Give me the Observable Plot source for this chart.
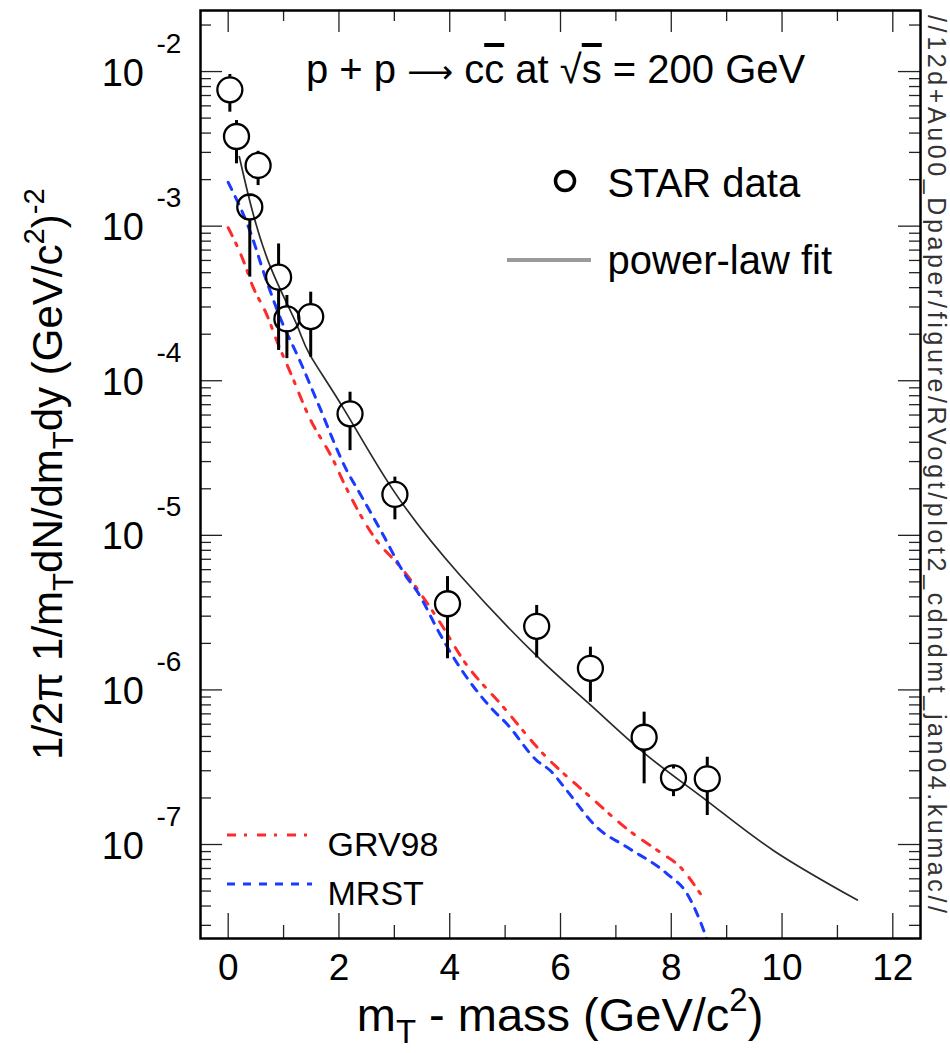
<!DOCTYPE html>
<html>
<head>
<meta charset="utf-8">
<script src="https://cdn.jsdelivr.net/npm/d3@7"></script>
<script src="https://cdn.jsdelivr.net/npm/@observablehq/plot@0.6"></script>
<style>
  html, body { margin: 0; padding: 0; background: #fff; }
  svg { display: block; }
</style>
</head>
<body>
<div id="chart"></div>
<script>
// ---------- data ----------
// STAR data: mT - mass (GeV/c^2), yield, error bar top, error bar bottom
const starMt    = [0.03, 0.15, 0.39, 0.54, 0.91, 1.06, 1.49, 2.20, 3.01, 3.96, 5.57, 6.54, 7.51, 8.04, 8.65];
const starYield = [7.62e-3, 3.80e-3, 1.33e-3, 2.47e-3, 4.68e-4, 2.51e-4, 2.60e-4, 6.11e-5, 1.84e-5, 3.61e-6, 2.58e-6, 1.38e-6, 4.94e-7, 2.70e-7, 2.66e-7];
const starErrHi = [9.57e-3, 4.82e-3, 1.55e-3, 3.05e-3, 7.67e-4, 3.56e-4, 3.74e-4, 8.43e-5, 2.38e-5, 5.41e-6, 3.52e-6, 1.89e-6, 7.18e-7, 3.08e-7, 3.67e-7];
const starErrLo = [5.46e-3, 2.53e-3, 4.68e-4, 1.83e-3, 1.57e-4, 1.39e-4, 1.42e-4, 3.53e-5, 1.26e-5, 1.59e-6, 1.61e-6, 8.32e-7, 2.47e-7, 2.04e-7, 1.54e-7];

// power-law fit
const fitMt    = [0.2, 0.42, 0.77, 1.23, 1.47, 2.1, 3.0, 4.19, 5.57, 6.55, 7.55, 8.65, 9.85, 11.36];
const fitYield = [2.82e-3, 1.32e-3, 5.37e-4, 2.34e-4, 1.48e-4, 6.46e-5, 1.91e-5, 5.50e-6, 1.66e-6, 7.94e-7, 3.80e-7, 1.91e-7, 9.12e-8, 4.37e-8];

// GRV98 calculation
const grvMt    = [0, 0.27, 0.45, 0.69, 0.9, 1.11, 1.47, 1.9, 2.1, 2.68, 3.1, 3.82, 4.25, 4.97, 5.69, 6.48, 7.32, 7.80, 8.165, 8.526];
const grvYield = [9.77e-4, 6.03e-4, 4.03e-4, 2.71e-4, 1.73e-4, 1.16e-4, 5.75e-5, 3.05e-5, 2.14e-5, 9.25e-6, 6.31e-6, 2.75e-6, 1.55e-6, 7.73e-7, 3.85e-7, 2.12e-7, 1.17e-7, 8.91e-8, 7.13e-8, 4.80e-8];

// MRST calculation
const mrstMt    = [0, 0.39, 0.69, 0.96, 1.293, 1.624, 2.14, 2.38, 2.77, 3.22, 3.40, 3.82, 4.0, 4.79, 5.03, 5.573, 5.814, 6.116, 6.658, 7.2, 7.924, 8.286, 8.586, 8.65];
const mrstYield = [1.92e-3, 9.38e-4, 4.45e-4, 2.45e-4, 1.35e-4, 7.10e-5, 2.63e-5, 1.86e-5, 1.05e-5, 5.37e-6, 4.40e-6, 2.31e-6, 1.78e-6, 7.36e-7, 6.04e-7, 3.49e-7, 3.01e-7, 2.23e-7, 1.29e-7, 9.62e-8, 6.46e-8, 4.80e-8, 2.78e-8, 2.40e-8];

// axes
const xMajorTicks = [0, 2, 4, 6, 8, 10, 12];
const xMinorTicks = [1, 3, 5, 7, 9, 11];
const xTickLabels = ["0", "2", "4", "6", "8", "10", "12"];
const yDecades = [-2, -3, -4, -5, -6, -7];
const yExpLabels = ["-2", "-3", "-4", "-5", "-6", "-7"];
const xDomain = [-0.5, 12.5];
const yDomainExp = [-7.608, -1.605];

// texts
const titleParts = [["p + p ", "n"], ["\u27F6", "arrow"], [" c", "n"], ["c", "over"], [" at \u221A", "n"], ["s", "over"], [" = 200 GeV", "n"]];
const xTitleParts = [["m", "n"], ["T", "sub"], [" - mass (GeV/c", "n"], ["2", "sup"], [")", "n"]];
const yTitleParts = [["1/2\u03C0 1/m", "n"], ["T", "sub"], ["dN/dm", "n"], ["T", "sub"], ["dy (GeV/c", "n"], ["2", "sup"], [")", "n"], ["-2", "sup"]];
const legendTop = ["STAR data", "power-law fit"];
const legendBottom = ["GRV98", "MRST"];
const sideNote = "//12d+Au00_Dpaper/figure/RVogt/plot2_cdndmt_jan04.kumac//";

// ---------- chart ----------
const W = 950, H = 1053;
const mL = 200, mR = 30, mT = 10, mB = 115;
const fw = W - mL - mR, fh = H - mT - mB;
const FONT = "'Liberation Sans', Arial, Helvetica, sans-serif";
const RED = "#ff2a2a", BLUE = "#1a3aff";

const stars = starMt.map((x, i) => ({x, y: starYield[i], hi: starErrHi[i], lo: starErrLo[i]}));
const fit = fitMt.map((x, i) => ({x, y: fitYield[i]}));
const grv = grvMt.map((x, i) => ({x, y: grvYield[i]}));
const mrst = mrstMt.map((x, i) => ({x, y: mrstYield[i]}));

const yMajor = yDecades.map(e => Math.pow(10, e));
const yMinor = [];
for (let e = -8; e <= -2; e++) for (let k = 2; k <= 9; k++) {
  const v = k * Math.pow(10, e);
  if (Math.log10(v) > yDomainExp[0] && Math.log10(v) < yDomainExp[1]) yMinor.push(v);
}

const R = 12.5;
const tickStyle = {stroke: "#222", strokeWidth: 1.3};

const chart = Plot.plot({
  width: W, height: H,
  marginLeft: mL, marginRight: mR, marginTop: mT, marginBottom: mB,
  style: {fontFamily: FONT, background: "#fff", color: "#000"},
  x: {domain: xDomain, axis: null},
  y: {type: "log", domain: yDomainExp.map(e => Math.pow(10, e)), axis: null},
  marks: [
    // ticks: bottom / top
    Plot.ruleX(xMajorTicks, {...tickStyle, insetTop: fh - 25}),
    Plot.ruleX(xMinorTicks, {...tickStyle, insetTop: fh - 13}),
    Plot.ruleX(xMajorTicks, {...tickStyle, insetBottom: fh - 22}),
    Plot.ruleX(xMinorTicks, {...tickStyle, insetBottom: fh - 11}),
    // ticks: left / right
    Plot.ruleY(yMajor, {...tickStyle, insetRight: fw - 22}),
    Plot.ruleY(yMinor, {...tickStyle, insetRight: fw - 11}),
    Plot.ruleY(yMajor, {...tickStyle, insetLeft: fw - 22}),
    Plot.ruleY(yMinor, {...tickStyle, insetLeft: fw - 11}),
    // tick labels
    Plot.text(xMajorTicks, {x: d => d, frameAnchor: "bottom", dy: 41, text: (d, i) => xTickLabels[i],
      fontSize: 37, textAnchor: "middle", lineAnchor: "bottom", fill: "#000"}),
    Plot.text(yMajor, {y: d => d, frameAnchor: "left", dx: -56.5, dy: 14, text: () => "10",
      fontSize: 38, textAnchor: "end", lineAnchor: "bottom", fill: "#000"}),
    Plot.text(yMajor, {y: d => d, frameAnchor: "left", dx: -44, dy: -19, text: (d, i) => yExpLabels[i],
      fontSize: 28, textAnchor: "start", lineAnchor: "bottom", fill: "#000"}),
    // theory curves
    Plot.line(grv, {x: "x", y: "y", stroke: RED, strokeWidth: 3, strokeDasharray: "9,8,3,10", curve: "monotone-x", clip: true}),
    Plot.line(mrst, {x: "x", y: "y", stroke: BLUE, strokeWidth: 3, strokeDasharray: "8,8", curve: "monotone-x", clip: true}),
    // fit
    Plot.line(fit, {x: "x", y: "y", stroke: "#2a2a2a", strokeWidth: 1.7, curve: "natural", clip: true}),
    // error bars (drawn outside the open markers)
    Plot.ruleX(stars, {x: "x", y1: "hi", y2: "y", insetBottom: R, stroke: "#000", strokeWidth: 3}),
    Plot.ruleX(stars, {x: "x", y1: "y", y2: "lo", insetTop: R, stroke: "#000", strokeWidth: 3}),
    Plot.dot(stars, {x: "x", y: "y", r: R, stroke: "#000", strokeWidth: 2.3, fill: "none"}),
    // legend texts
    Plot.text([legendTop[0]], {frameAnchor: "top-left", dx: 407, dy: 186, text: d => d, fontSize: 40, textAnchor: "start", lineAnchor: "bottom", fill: "#000"}),
    Plot.text([legendTop[1]], {frameAnchor: "top-left", dx: 407, dy: 263, text: d => d, fontSize: 40, textAnchor: "start", lineAnchor: "bottom", fill: "#000"}),
    Plot.text([legendBottom[0]], {frameAnchor: "top-left", dx: 127, dy: 835, text: d => d, fontSize: 34, textAnchor: "start", lineAnchor: "middle", fill: "#000"}),
    Plot.text([legendBottom[1]], {frameAnchor: "top-left", dx: 127, dy: 884, text: d => d, fontSize: 34, textAnchor: "start", lineAnchor: "middle", fill: "#000"}),
    Plot.frame({stroke: "#000", strokeWidth: 2.5})
  ]
});
document.getElementById("chart").appendChild(chart);

// ---------- legend swatches & rich text ----------
const svg = d3.select(chart);
const g = svg.append("g");

g.append("circle").attr("cx", 565).attr("cy", 181).attr("r", 9.5)
  .attr("fill", "none").attr("stroke", "#000").attr("stroke-width", 3.5);
g.append("line").attr("x1", 507).attr("x2", 591).attr("y1", 260).attr("y2", 260)
  .attr("stroke", "#9a9a9a").attr("stroke-width", 4);
g.append("line").attr("x1", 227).attr("x2", 312).attr("y1", 835).attr("y2", 835)
  .attr("stroke", RED).attr("stroke-width", 3).attr("stroke-dasharray", "9,8,3,10");
g.append("line").attr("x1", 227).attr("x2", 312).attr("y1", 884).attr("y2", 884)
  .attr("stroke", BLUE).attr("stroke-width", 3).attr("stroke-dasharray", "8,8");

function rich(parent, parts, size, anchor) {
  const t = parent.append("text").attr("font-family", FONT).attr("font-size", size)
    .attr("fill", "#000").attr("text-anchor", anchor);
  let cur = 0;
  for (const [txt, kind] of parts) {
    let shift = 0, fs = size;
    if (kind === "sub") { shift = 0.25 * size; fs = 0.7 * size; }
    if (kind === "sup") { shift = -0.42 * size; fs = 0.7 * size; }
    const ts = t.append("tspan").attr("font-size", fs).attr("dy", shift - cur).text(txt);
    if (kind === "over") ts.attr("text-decoration", "overline");
    if (kind === "arrow") ts.attr("font-family", "'DejaVu Sans', sans-serif").attr("font-size", size * 0.8);
    cur = shift;
  }
  return t;
}

rich(g.append("g").attr("transform", "translate(306,83)"), titleParts, 40, "start");
rich(g.append("g").attr("transform", "translate(560,1031)"), xTitleParts, 47, "middle");
rich(g.append("g").attr("transform", "translate(62,474) rotate(-90)"), yTitleParts, 42, "middle");

g.append("text").attr("transform", "translate(928,15) rotate(90)")
  .attr("font-family", FONT).attr("font-size", 25).attr("fill", "#333")
  .attr("text-anchor", "start")
  .attr("textLength", 898).attr("lengthAdjust", "spacing")
  .text(sideNote);
</script>
</body>
</html>
